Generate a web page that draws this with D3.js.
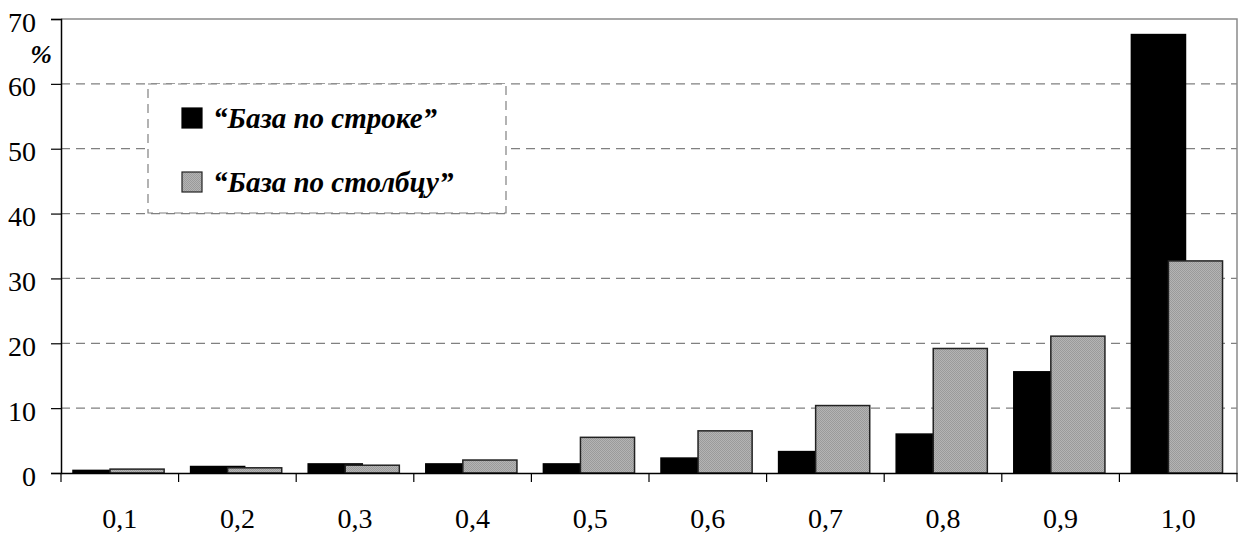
<!DOCTYPE html>
<html>
<head>
<meta charset="utf-8">
<script src="https://cdn.jsdelivr.net/npm/d3@7"></script>
<style>
  body { margin: 0; background: #fff; }
  svg { display: block; }
  svg text { font-family: "Liberation Serif", "Tinos", "Nimbus Roman", "FreeSerif", "Noto Serif", "DejaVu Serif", "Times", serif; }
</style>
</head>
<body>
<div id="chart"></div>
<script>
// Data
const categories = ["0,1", "0,2", "0,3", "0,4", "0,5", "0,6", "0,7", "0,8", "0,9", "1,0"];
const seriesNames = ["“База по строке”", "“База по столбцу”"];
const rowBase = [0.4, 1.0, 1.4, 1.4, 1.4, 2.3, 3.3, 6.0, 15.6, 67.6];
const colBase = [0.6, 0.8, 1.2, 2.0, 5.5, 6.5, 10.4, 19.2, 21.1, 32.7];
const yTicks = [0, 10, 20, 30, 40, 50, 60, 70];

const width = 1238, height = 535;
const margins = { left: 61, right: 1, top: 19, bottom: 62 };
const innerW = width - margins.left - margins.right;
const innerH = height - margins.top - margins.bottom;

const svg = d3.select("#chart")
  .append("svg")
    .attr("width", width).attr("height", height);

// Pattern to imitate the dithered grey fill
const defs = svg.append("defs");
const pat = defs.append("pattern")
  .attr("id", "grey").attr("width", 2).attr("height", 2)
  .attr("patternUnits", "userSpaceOnUse");
pat.append("rect").attr("width", 2).attr("height", 2).attr("fill", "#b4b4b4");
pat.append("rect").attr("width", 1).attr("height", 1).attr("fill", "#9a9a9a");
pat.append("rect").attr("x", 1).attr("y", 1).attr("width", 1).attr("height", 1).attr("fill", "#9a9a9a");

const g = svg.append("g").attr("transform", `translate(${margins.left}, ${margins.top})`);

const x = d3.scaleBand().domain(categories).range([0, innerW]).padding(0);
const bw = x.bandwidth();
const x1 = d3.scaleBand().domain(seriesNames).range([bw * 0.102, bw * 0.102 + bw * 0.63]).padding(0);
const barW = bw * 0.46;
const y = d3.scaleLinear().domain([0, 70]).range([innerH, 0]);

// Gridlines
g.append("g").selectAll("line")
  .data(yTicks.filter(t => t > 0 && t < 70))
  .enter().append("line")
    .attr("x1", 0).attr("x2", innerW)
    .attr("y1", d => y(d)).attr("y2", d => y(d))
    .attr("stroke", "#808080").attr("stroke-width", 1.2)
    .attr("stroke-dasharray", "9,6");

// Plot border top / right
g.append("path")
  .attr("d", `M0,${y(70)}H${innerW}V${innerH}`)
  .attr("fill", "none").attr("stroke", "#8a8a8a").attr("stroke-width", 1.5);

// Bars
const series = [
  { name: seriesNames[0], values: rowBase, fill: "#000", stroke: "#000" },
  { name: seriesNames[1], values: colBase, fill: "url(#grey)", stroke: "#222" }
];
series.forEach(s => {
  g.append("g").selectAll("rect")
    .data(s.values.map((v, i) => ({ cat: categories[i], value: v })))
    .enter().append("rect")
      .attr("x", d => x(d.cat) + x1(s.name))
      .attr("y", d => y(d.value))
      .attr("width", barW)
      .attr("height", d => innerH - y(d.value))
      .attr("fill", s.fill)
      .attr("stroke", s.stroke).attr("stroke-width", 1.5);
});

// Axes
const yAxis = g.append("g")
  .call(d3.axisLeft(y).tickValues(yTicks).tickSize(10).tickPadding(15).tickFormat(d3.format("d")))
  .attr("font-family", null).attr("font-size", 28);
yAxis.select(".domain").attr("stroke", "#000").attr("stroke-width", 1.5);
yAxis.selectAll(".tick line").attr("stroke", "#000").attr("stroke-width", 1.2);
yAxis.selectAll(".tick text").attr("dy", "0.43em");

const xAxis = g.append("g").attr("transform", `translate(0, ${innerH})`)
  .call(d3.axisBottom(x).tickSize(0).tickPadding(35))
  .attr("font-family", null).attr("font-size", 28);
xAxis.select(".domain").attr("stroke", "#000").attr("stroke-width", 1.5);

// Category boundary ticks
g.append("g").selectAll("line")
  .data(d3.range(categories.length + 1))
  .enter().append("line")
    .attr("x1", i => i * bw).attr("x2", i => i * bw)
    .attr("y1", innerH).attr("y2", innerH + 9)
    .attr("stroke", "#000").attr("stroke-width", 1.2);

// Unit label
svg.append("text")
  .attr("x", 41).attr("y", 63)
  .attr("text-anchor", "middle")
  .attr("font-size", 26)
  .attr("font-weight", "bold").attr("font-style", "italic")
  .text("%");

// Legend
const legend = svg.append("g").attr("transform", "translate(148, 84)");
legend.append("rect")
  .attr("width", 358).attr("height", 129)
  .attr("fill", "#fff").attr("stroke", "#808080").attr("stroke-width", 1.2)
  .attr("stroke-dasharray", "9,6");
series.forEach((s, i) => {
  const row = legend.append("g").attr("transform", `translate(34, ${24 + i * 64})`);
  row.append("rect").attr("width", 20).attr("height", 20)
    .attr("fill", s.fill).attr("stroke", s.stroke).attr("stroke-width", 1.2);
  row.append("text")
    .attr("x", 31).attr("y", 20)
    .attr("font-size", 29)
    .attr("font-weight", "bold").attr("font-style", "italic")
    .text(s.name);
});
</script>
</body>
</html>
